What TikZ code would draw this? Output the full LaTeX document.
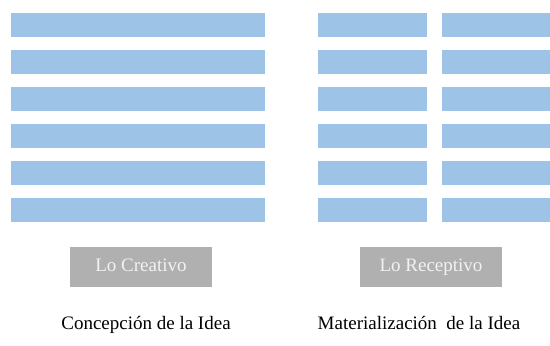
\documentclass[tikz,border=0pt]{standalone}
\usepackage{fontspec}
\setmainfont{Liberation Serif}
\definecolor{barra}{HTML}{9DC3E6}
\definecolor{caja}{HTML}{B0B0B0}
\definecolor{textocaja}{HTML}{F2F2F2}
\tikzset{
  cajagris/.style={fill=caja, text=textocaja, minimum width=142pt, minimum height=40pt, text height=13pt, text depth=4pt}
}
\begin{document}
\begin{tikzpicture}[x=1pt, y=-1pt, every node/.style={font=\fontsize{19}{22}\selectfont}]
\useasboundingbox (0,0) rectangle (550,346);

% Barras de la izquierda (6 filas)
\foreach \i in {0,1,2,3,4,5} {
  \fill[barra] (11,13+37*\i) rectangle (265,37+37*\i);
}

% Barras de la derecha, en dos columnas
\foreach \i in {0,1,2,3,4,5} {
  \fill[barra] (318,13+37*\i) rectangle (427,37+37*\i);
  \fill[barra] (442,13+37*\i) rectangle (550,37+37*\i);
}

% Cajas grises
\node[cajagris] (creativo) at (141,267) {Lo Creativo};
\node[cajagris] (receptivo) at (431,267) {Lo Receptivo};

% Rótulos de abajo
\node[text height=13pt, text depth=4pt] (concepcion) at (146,325) {Concepción de la Idea};
\node[text height=13pt, text depth=4pt] (materializacion) at (419,325) {Materialización\ \ de la Idea};

\end{tikzpicture}
\end{document}
